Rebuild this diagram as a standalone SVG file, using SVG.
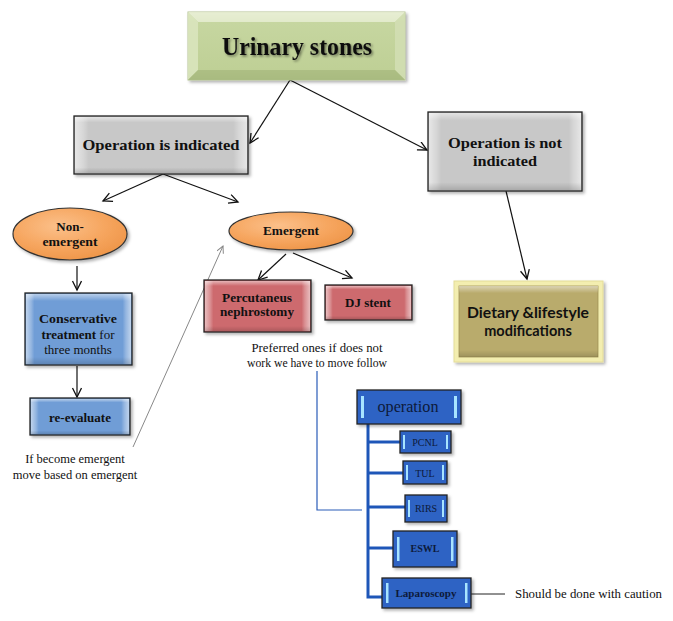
<svg xmlns="http://www.w3.org/2000/svg" width="673" height="621" viewBox="0 0 673 621">
<defs>
  <marker id="arr" markerWidth="12" markerHeight="12" refX="10" refY="5" orient="auto" markerUnits="userSpaceOnUse">
    <path d="M1,0.5 L10,5 L1,9.5" fill="none" stroke="#111" stroke-width="1.3"/>
  </marker>
  <marker id="arrg" markerWidth="10" markerHeight="10" refX="8" refY="4" orient="auto" markerUnits="userSpaceOnUse">
    <path d="M1,0.5 L8,4 L1,7.5" fill="none" stroke="#888" stroke-width="1"/>
  </marker>
  <linearGradient id="hx" x1="0" y1="0" x2="1" y2="0">
    <stop offset="0" stop-color="#fff" stop-opacity="0.55"/>
    <stop offset="0.05" stop-color="#fff" stop-opacity="0.25"/>
    <stop offset="0.08" stop-color="#fff" stop-opacity="0"/>
    <stop offset="0.92" stop-color="#fff" stop-opacity="0"/>
    <stop offset="0.95" stop-color="#fff" stop-opacity="0.25"/>
    <stop offset="1" stop-color="#fff" stop-opacity="0.55"/>
  </linearGradient>
  <linearGradient id="hy" x1="0" y1="0" x2="0" y2="1">
    <stop offset="0" stop-color="#fff" stop-opacity="0.5"/>
    <stop offset="0.1" stop-color="#fff" stop-opacity="0"/>
    <stop offset="0.9" stop-color="#000" stop-opacity="0"/>
    <stop offset="1" stop-color="#000" stop-opacity="0.15"/>
  </linearGradient>
  <linearGradient id="green" x1="0" y1="0" x2="0" y2="1">
    <stop offset="0" stop-color="#dfe8c6"/>
    <stop offset="0.15" stop-color="#c6d6a0"/>
    <stop offset="0.85" stop-color="#bfd096"/>
    <stop offset="1" stop-color="#a9bb80"/>
  </linearGradient>
  <radialGradient id="orange" cx="0.4" cy="0.35" r="0.7">
    <stop offset="0" stop-color="#fbc08a"/>
    <stop offset="0.6" stop-color="#f6a55e"/>
    <stop offset="1" stop-color="#ee9548"/>
  </radialGradient>
  <filter id="sh" x="-10%" y="-10%" width="125%" height="130%">
    <feDropShadow dx="2" dy="2" stdDeviation="1.5" flood-color="#000" flood-opacity="0.3"/>
  </filter>
  <filter id="tsh" x="-5%" y="-20%" width="115%" height="150%">
    <feDropShadow dx="1.5" dy="1.5" stdDeviation="0.8" flood-color="#000" flood-opacity="0.45"/>
  </filter>
</defs>
<style>
  text { font-family: 'Liberation Serif', 'Times New Roman', Times, 'DejaVu Serif', serif; }
  .sb { font-weight: bold; fill: #111; text-anchor: middle; }
  .sn { fill: #111; text-anchor: middle; }
  .nv { fill: #0d1a3a; text-anchor: middle; }
  .ln { stroke: #111; stroke-width: 1.2; fill: none; marker-end: url(#arr); }
  .bx { stroke: #222; stroke-width: 1.3; }
  .hl { fill: #a8e4ff; }
  .bl { stroke: #1e56b8; stroke-width: 3; fill: none; }
</style>
<rect width="673" height="621" fill="#fff"/>

<g id="connectors">
  <line class="ln" x1="290" y1="80" x2="250" y2="143"/>
  <line class="ln" x1="290" y1="80" x2="427" y2="150"/>
  <line class="ln" x1="163" y1="174" x2="103" y2="201"/>
  <line class="ln" x1="163" y1="174" x2="238" y2="202"/>
  <line class="ln" x1="506" y1="191" x2="527" y2="279"/>
  <line class="ln" x1="77" y1="266" x2="77" y2="290"/>
  <line class="ln" x1="77" y1="366" x2="77" y2="397"/>
  <line class="ln" x1="286" y1="254" x2="258" y2="280"/>
  <line class="ln" x1="293" y1="253" x2="352" y2="278"/>
  <line x1="133" y1="447" x2="223" y2="246" stroke="#888" stroke-width="1" marker-end="url(#arrg)"/>
  <polyline points="317,371 317,510 362,510" fill="none" stroke="#2a5cb8" stroke-width="1.2"/>
  <polyline class="bl" points="368,424 368,597 383,597"/>
  <line class="bl" x1="368" y1="442" x2="400" y2="442"/>
  <line class="bl" x1="368" y1="473" x2="403" y2="473"/>
  <line class="bl" x1="368" y1="507" x2="405" y2="507"/>
  <line class="bl" x1="368" y1="548" x2="393" y2="548"/>
  <line x1="471" y1="594" x2="505" y2="594" stroke="#222" stroke-width="1"/>
</g>

<g id="urinary-stones">
  <rect x="188" y="12" width="217" height="68" fill="url(#green)" stroke="#b5c493" stroke-width="1" filter="url(#sh)"/>
  <polygon points="188,12 405,12 395,22 198,22" fill="#e8efd6" opacity="0.8"/>
  <polygon points="188,12 198,22 198,70 188,80" fill="#d9e4bd" opacity="0.9"/>
  <polygon points="405,12 395,22 395,70 405,80" fill="#d2deb2" opacity="0.9"/>
  <polygon points="188,80 198,70 395,70 405,80" fill="#a9ba80" opacity="0.8"/>
  <text class="sb" x="297" y="55" font-size="25" textLength="150" lengthAdjust="spacingAndGlyphs" filter="url(#tsh)">Urinary stones</text>
</g>

<g id="op-indicated">
  <rect class="bx" x="74" y="116" width="174" height="58" fill="#c8c8c8" filter="url(#sh)"/>
  <rect x="75" y="117" width="172" height="56" fill="url(#hx)"/>
  <rect x="75" y="117" width="172" height="56" fill="url(#hy)"/>
  <text class="sb" x="161" y="150" font-size="15.5" textLength="157" lengthAdjust="spacingAndGlyphs">Operation is indicated</text>
</g>

<g id="op-not-indicated">
  <rect class="bx" x="428" y="112" width="154" height="79" fill="#c8c8c8" filter="url(#sh)"/>
  <rect x="429" y="113" width="152" height="77" fill="url(#hx)"/>
  <rect x="429" y="113" width="152" height="77" fill="url(#hy)"/>
  <text class="sb" x="505" y="148" font-size="15.5" textLength="114" lengthAdjust="spacingAndGlyphs">Operation is not</text>
  <text class="sb" x="505" y="166" font-size="15.5" textLength="64" lengthAdjust="spacingAndGlyphs">indicated</text>
</g>

<g id="non-emergent">
  <ellipse cx="70" cy="234" rx="57" ry="26" fill="url(#orange)" stroke="#333" stroke-width="1.2" filter="url(#sh)"/>
  <text class="sb" x="70" y="231" font-size="13">Non-</text>
  <text class="sb" x="70" y="246" font-size="13" textLength="55" lengthAdjust="spacingAndGlyphs">emergent</text>
</g>

<g id="emergent">
  <ellipse cx="291" cy="231" rx="62" ry="19" fill="url(#orange)" stroke="#333" stroke-width="1.2" filter="url(#sh)"/>
  <text class="sb" x="291" y="235" font-size="13" textLength="56" lengthAdjust="spacingAndGlyphs">Emergent</text>
</g>

<g id="conservative">
  <rect class="bx" x="25" y="293" width="107" height="72" fill="#6f9dd6" filter="url(#sh)"/>
  <rect x="26" y="294" width="105" height="70" fill="url(#hx)"/>
  <rect x="26" y="294" width="105" height="70" fill="url(#hy)"/>
  <text class="sb" x="78" y="323" font-size="13" textLength="78" lengthAdjust="spacingAndGlyphs">Conservative</text>
  <text class="sn" x="78" y="339" font-size="13"><tspan font-weight="bold">treatment</tspan> for</text>
  <text class="sn" x="78" y="354" font-size="13">three months</text>
</g>

<g id="re-evaluate">
  <rect class="bx" x="30" y="398" width="100" height="37" fill="#6f9dd6" filter="url(#sh)"/>
  <rect x="31" y="399" width="98" height="35" fill="url(#hx)"/>
  <rect x="31" y="399" width="98" height="35" fill="url(#hy)"/>
  <text class="sb" x="80" y="422" font-size="13">re-evaluate</text>
</g>

<g id="note-emergent">
  <text class="sn" x="75" y="463" font-size="12.5">If become emergent</text>
  <text class="sn" x="75" y="479" font-size="12.5">move based on emergent</text>
</g>

<g id="percutaneus">
  <rect class="bx" x="204" y="280" width="107" height="52" fill="#cd6b6e" filter="url(#sh)"/>
  <rect x="205" y="281" width="105" height="50" fill="url(#hx)"/>
  <rect x="205" y="281" width="105" height="50" fill="url(#hy)"/>
  <text class="sb" x="257" y="302" font-size="12.5" textLength="70" lengthAdjust="spacingAndGlyphs">Percutaneus</text>
  <text class="sb" x="257" y="316" font-size="12.5" textLength="74" lengthAdjust="spacingAndGlyphs">nephrostomy</text>
</g>

<g id="dj-stent">
  <rect class="bx" x="325" y="285" width="87" height="35" fill="#cd6b6e" filter="url(#sh)"/>
  <rect x="326" y="286" width="85" height="33" fill="url(#hx)"/>
  <rect x="326" y="286" width="85" height="33" fill="url(#hy)"/>
  <text class="sb" x="368" y="307" font-size="13">DJ stent</text>
</g>

<g id="note-preferred">
  <text class="sn" x="317" y="352" font-size="12.5" textLength="131" lengthAdjust="spacingAndGlyphs">Preferred ones if does not</text>
  <text class="sn" x="317" y="367" font-size="12.5" textLength="140" lengthAdjust="spacingAndGlyphs">work we have to move follow</text>
</g>

<g id="dietary">
  <rect x="454" y="281" width="149" height="81" fill="#f3eeb0" stroke="#e4dc98" stroke-width="1" filter="url(#sh)"/>
  <rect x="459" y="286" width="139" height="71" fill="#b9ab6c" stroke="#9e9155" stroke-width="0.8"/>
  <rect x="459" y="286" width="139" height="71" fill="url(#hy)"/>
  <text x="528" y="318" font-family="Lato, 'Liberation Sans', sans-serif" style="font-family: Lato, 'Liberation Sans', sans-serif" font-weight="bold" font-size="14.5" fill="#111" text-anchor="middle" textLength="122" lengthAdjust="spacingAndGlyphs">Dietary &amp;lifestyle</text>
  <text x="528" y="336" font-family="Lato, 'Liberation Sans', sans-serif" style="font-family: Lato, 'Liberation Sans', sans-serif" font-weight="bold" font-size="14.5" fill="#111" text-anchor="middle">modifications</text>
</g>

<g id="operation">
  <rect class="bx" x="357" y="390" width="104" height="34" fill="#2e63c4" filter="url(#sh)"/>
  <rect class="hl" x="361" y="396" width="3" height="22"/>
  <rect class="hl" x="454" y="396" width="3" height="22"/>
  <text class="nv" x="408" y="412" font-size="16" textLength="61" lengthAdjust="spacingAndGlyphs">operation</text>
</g>

<g id="pcnl">
  <rect class="bx" x="400" y="431" width="51" height="22" fill="#2e63c4" filter="url(#sh)"/>
  <rect class="hl" x="403" y="435" width="2" height="14"/>
  <rect class="hl" x="446" y="435" width="2" height="14"/>
  <text class="nv" x="425" y="446" font-size="10">PCNL</text>
</g>

<g id="tul">
  <rect class="bx" x="403" y="461" width="44" height="23" fill="#2e63c4" filter="url(#sh)"/>
  <rect class="hl" x="406" y="465" width="2" height="15"/>
  <rect class="hl" x="442" y="465" width="2" height="15"/>
  <text class="nv" x="425" y="477" font-size="10">TUL</text>
</g>

<g id="rirs">
  <rect class="bx" x="405" y="495" width="42" height="27" fill="#2e63c4" filter="url(#sh)"/>
  <rect class="hl" x="408" y="500" width="2" height="17"/>
  <rect class="hl" x="442" y="500" width="2" height="17"/>
  <text class="nv" x="426" y="512" font-size="10">RIRS</text>
</g>

<g id="eswl">
  <rect class="bx" x="393" y="531" width="64" height="36" fill="#2e63c4" filter="url(#sh)"/>
  <rect class="hl" x="397" y="537" width="2.5" height="24"/>
  <rect class="hl" x="451" y="537" width="2.5" height="24"/>
  <text class="nv" x="425" y="552" font-size="10" font-weight="bold">ESWL</text>
</g>

<g id="laparoscopy">
  <rect class="bx" x="382" y="578" width="89" height="30" fill="#2e63c4" filter="url(#sh)"/>
  <rect class="hl" x="386" y="583" width="2.5" height="20"/>
  <rect class="hl" x="465" y="583" width="2.5" height="20"/>
  <text class="nv" x="426" y="597" font-size="10.5" font-weight="bold" textLength="61" lengthAdjust="spacingAndGlyphs">Laparoscopy</text>
</g>

<g id="note-caution">
  <text class="sn" x="515" y="598" font-size="12.5" style="text-anchor:start" textLength="147" lengthAdjust="spacingAndGlyphs">Should be done with caution</text>
</g>
</svg>
